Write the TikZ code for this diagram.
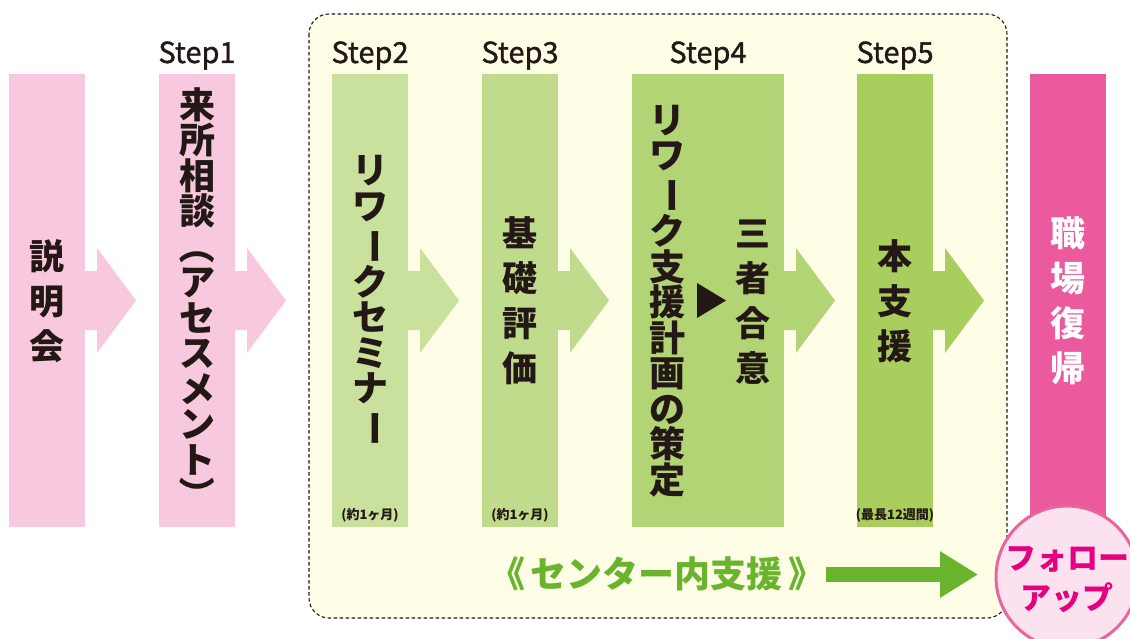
\documentclass[tikz,border=0pt]{standalone}
\usepackage{fontspec}
\usepackage{graphicx}
\setmainfont{Noto Sans CJK JP}
\newfontfamily\stepfont[FakeBold=1.2]{Noto Sans CJK JP}
\usetikzlibrary{calc,arrows.meta}
\definecolor{pinkc}{HTML}{F7C8DE}
\definecolor{gtwo}{HTML}{C9E19D}
\definecolor{gthree}{HTML}{BFDB8B}
\definecolor{gfour}{HTML}{B3D475}
\definecolor{gfive}{HTML}{A9CE5D}
\definecolor{magc}{HTML}{EA5A9C}
\definecolor{pinkL}{HTML}{FCE1EE}
\definecolor{pinkB}{HTML}{E8659F}
\definecolor{magT}{HTML}{E4007F}
\definecolor{greenA}{HTML}{6AB42D}
\definecolor{cream}{HTML}{FEFDE6}
\definecolor{ink}{HTML}{231815}
\newcommand{\vbar}{\rotatebox[origin=c]{-90}{ー}}
\newcommand{\vop}{\rotatebox[origin=c]{-90}{（}}
\newcommand{\vcl}{\rotatebox[origin=c]{-90}{）}}
\newcommand{\blockarrow}[2]{%
  \fill[#2] ($(#1.east)+(-0.5,-29.5)$) -- ++(12.5,0) -- ++(0,-23) -- ++(39,52.5)
    -- ++(-39,52.5) -- ++(0,-23) -- ++(-12.5,0) -- cycle;}
\begin{document}
\begin{tikzpicture}[x=1pt,y=-1pt,
  colbox/.style={anchor=north west, minimum height=453, inner sep=0, outer sep=0},
  vtxt/.style={align=center, text=ink, inner sep=0, font=\bfseries\fontsize{36}{35.5}\selectfont},
  vwide/.style={align=center, text=ink, inner sep=0, font=\bfseries\fontsize{35}{45}\selectfont},
  steplbl/.style={anchor=base, text=ink, inner sep=0, font=\stepfont\fontsize{29}{29}\selectfont},
  notelbl/.style={text=ink, inner sep=0, font=\bfseries\fontsize{13}{13}\selectfont}]
\useasboundingbox (0,0) rectangle (1130,639);
\fill[white] (0,0) rectangle (1130,639);
% centre support frame
\draw[ink, line width=1.1, dash pattern=on 3.5pt off 2.5pt, fill=cream, rounded corners=20]
  (309,14) rectangle (1007,618);
% columns
\node[colbox, minimum width=76, fill=pinkc] (c0) at (9,74) {};
\node[colbox, minimum width=76, fill=pinkc] (c1) at (159,74) {};
\node[colbox, minimum width=76, fill=gtwo] (c2) at (332,74) {};
\node[colbox, minimum width=76, fill=gthree] (c3) at (482,74) {};
\node[colbox, minimum width=152, fill=gfour] (c4) at (632,74) {};
\node[colbox, minimum width=76, fill=gfive] (c5) at (857,74) {};
\node[colbox, minimum width=76, fill=magc] (c6) at (1030,74) {};
% block arrows
\blockarrow{c0}{pinkc}
\blockarrow{c1}{pinkc}
\blockarrow{c2}{gtwo}
\blockarrow{c3}{gthree}
\blockarrow{c4}{gfour}
\blockarrow{c5}{gfive}
% step labels
\node[steplbl] (s1) at (197,63) {Step1};
\node[steplbl] (s2) at (370,63) {Step2};
\node[steplbl] (s3) at (520,63) {Step3};
\node[steplbl] (s4) at (708,63) {Step4};
\node[steplbl] (s5) at (895,63) {Step5};
% column texts
\node[vwide] (t0) at (47,301) {説\\明\\会};
\node[vtxt] (t1) at (197,300) {来\\所\\相\\談\\\vop\\ア\\セ\\ス\\メ\\ン\\ト\\\vcl};
\node[vtxt] (t2) at (370,301) {リ\\ワ\\\vbar\\ク\\セ\\ミ\\ナ\\\vbar};
\node[vwide] (t3) at (520,301) {基\\礎\\評\\価};
\node[vtxt] (t4a) at (667,301) {リ\\ワ\\\vbar\\ク\\支\\援\\計\\画\\の\\策\\定};
\fill[ink] (697,283) -- (726,300.5) -- (697,318) -- cycle;
\node[vwide] (t4b) at (753,302) {三\\者\\合\\意};
\node[vwide] (t5) at (895,301) {本\\支\\援};
\node[vwide, text=white] (t6) at (1068,301) {職\\場\\復\\帰};
% duration notes
\node[notelbl] (n2) at (370,515) {(約1ヶ月)};
\node[notelbl] (n3) at (520,515) {(約1ヶ月)};
\node[notelbl] (n5) at (895,515) {(最長12週間)};
% centre support label and arrow
\node[text=greenA, inner sep=0, font=\bfseries\fontsize{36}{36}\selectfont] (lbl) at (657,574) {《\,センター内支援\,》};
\coordinate (ga) at (826,574.5);
\coordinate (gb) at (978,574.5);
\draw[greenA, line width=15, -{Triangle[length=38,width=44]}] (ga) -- (gb);
% follow up circle
\node[circle, draw=pinkB, line width=3, fill=pinkL, minimum size=142, inner sep=0] (fu) at (1067,577) {};
\node[align=center, text=magT, inner sep=0, font=\bfseries\fontsize{31}{40}\selectfont] (fut) at (1067,580) {フォロー\\アップ};
\end{tikzpicture}
\end{document}
